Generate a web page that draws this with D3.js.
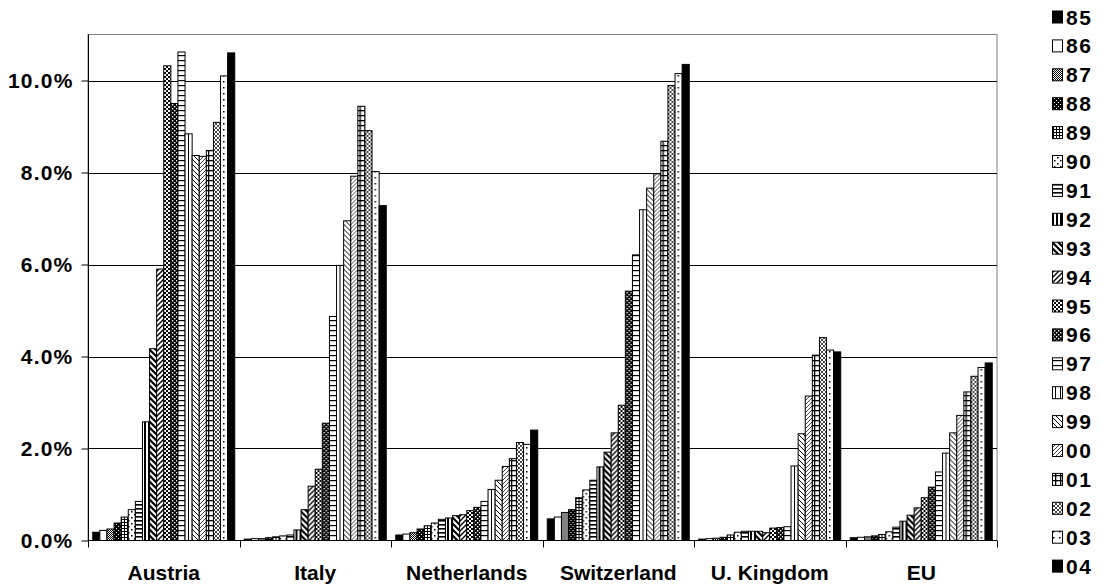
<!DOCTYPE html>
<html>
<head>
<meta charset="utf-8">
<script src="https://cdn.jsdelivr.net/npm/d3@7"></script>
<style>
  body { margin: 0; background: #fff; }
  text { font-family: "Liberation Sans", Arial, sans-serif; font-weight: bold; }
</style>
</head>
<body>
<script>
const years = ["85", "86", "87", "88", "89", "90", "91", "92", "93", "94",
               "95", "96", "97", "98", "99", "00", "01", "02", "03", "04"];
const categories = ["Austria", "Italy", "Netherlands", "Switzerland", "U. Kingdom", "EU"];
const yTicks = [0, 2, 4, 6, 8, 10];

// percent values, one per year 85..04
const austria = [0.18, 0.22, 0.25, 0.38, 0.51, 0.67, 0.85, 2.58, 4.17, 5.90, 10.32, 9.50, 10.62, 8.84, 8.37, 8.35, 8.48, 9.09, 10.10, 10.60];
const italy = [0.03, 0.04, 0.04, 0.06, 0.08, 0.10, 0.12, 0.23, 0.67, 1.18, 1.55, 2.55, 4.87, 5.98, 6.95, 7.92, 9.44, 8.91, 8.02, 7.28];
const netherlands = [0.12, 0.14, 0.17, 0.25, 0.32, 0.38, 0.46, 0.49, 0.54, 0.56, 0.65, 0.72, 0.85, 1.11, 1.31, 1.61, 1.78, 2.13, 2.09, 2.40];
const switzerland = [0.47, 0.51, 0.61, 0.67, 0.93, 1.10, 1.31, 1.60, 1.92, 2.34, 2.94, 5.42, 6.21, 7.19, 7.66, 7.97, 8.68, 9.89, 10.15, 10.35];
const uk = [0.03, 0.04, 0.05, 0.07, 0.12, 0.18, 0.20, 0.20, 0.20, 0.17, 0.27, 0.28, 0.30, 1.62, 2.32, 3.14, 4.03, 4.41, 4.14, 4.10];
const eu = [0.06, 0.07, 0.08, 0.10, 0.13, 0.19, 0.29, 0.42, 0.55, 0.71, 0.93, 1.16, 1.49, 1.90, 2.34, 2.72, 3.23, 3.57, 3.76, 3.86];

const seriesByCategory = [austria, italy, netherlands, switzerland, uk, eu];

const width = 1101, height = 585;
const plotLeft = 88, plotRight = 997, plotTop = 34.5, plotBottom = 540.5;

const svg = d3.select("body").append("svg")
    .attr("width", width)
    .attr("height", height);
const defs = svg.append("defs");

// ---- fill patterns, one per year ----
function makePattern(id, size, bg) {
    const p = defs.append("pattern")
        .attr("id", id)
        .attr("patternUnits", "userSpaceOnUse")
        .attr("width", size)
        .attr("height", size);
    p.append("rect").attr("width", size).attr("height", size).attr("fill", bg);
    return p;
}
function dots(p, pts, s, color) {
    pts.forEach(([x, y]) => p.append("rect").attr("x", x).attr("y", y)
        .attr("width", s).attr("height", s).attr("fill", color));
}
function hLines(p, size, w) {
    p.append("rect").attr("x", 0).attr("y", 0).attr("width", size).attr("height", w).attr("fill", "#000");
}
function vLines(p, size, w) {
    p.append("rect").attr("x", 0).attr("y", 0).attr("width", w).attr("height", size).attr("fill", "#000");
}
function diag(p, s, w, up, color) {
    const d = up
        ? `M0,${s} L${s},0 M${-s / 2},${s / 2} L${s / 2},${-s / 2} M${s / 2},${s * 1.5} L${s * 1.5},${s / 2}`
        : `M0,0 L${s},${s} M${-s / 2},${s / 2} L${s / 2},${s * 1.5} M${s / 2},${-s / 2} L${s * 1.5},${s / 2}`;
    p.append("path").attr("d", d).attr("stroke", color).attr("stroke-width", w).attr("fill", "none");
}

makePattern("p85", 4, "#000");
makePattern("p86", 4, "#fff");
dots(makePattern("p87", 2, "#fff"), [[0, 0], [1, 1]], 1, "#000");
dots(makePattern("p88", 4, "#000"), [[0, 0], [2, 2]], 1, "#fff");
(() => { const p = makePattern("p89", 3, "#fff"); hLines(p, 3, 1); vLines(p, 3, 1); })();
dots(makePattern("p90", 6, "#fff"), [[1, 1], [4, 4]], 1.5, "#000");
hLines(makePattern("p91", 4, "#fff"), 4, 1.6);
vLines(makePattern("p92", 4, "#fff"), 4, 2);
diag(makePattern("p93", 6, "#fff"), 6, 2.2, false, "#000");
diag(makePattern("p94", 5, "#fff"), 5, 1.4, true, "#000");
dots(makePattern("p95", 4, "#fff"), [[0, 0], [2, 2]], 2, "#000");
dots(makePattern("p96", 4, "#000"), [[0, 0], [2, 2]], 1.4, "#fff");
hLines(makePattern("p97", 5, "#fff"), 5, 1.2);
vLines(makePattern("p98", 5, "#fff"), 5, 1);
diag(makePattern("p99", 5, "#fff"), 5, 1, false, "#000");
diag(makePattern("p00", 4, "#fff"), 4, 1, true, "#444");
(() => { const p = makePattern("p01", 5, "#fff"); hLines(p, 5, 1.3); vLines(p, 5, 1.3); })();
(() => { const p = makePattern("p02", 4, "#fff"); diag(p, 4, 0.9, true, "#333"); diag(p, 4, 0.9, false, "#333"); })();
dots(makePattern("p03", 6, "#fff"), [[3, 3]], 1.5, "#000");
makePattern("p04", 4, "#000");

// ---- scales ----
const x0 = d3.scaleBand().domain(categories).range([plotLeft, plotRight]).padding(0);
const x1 = d3.scaleBand().domain(years).range([0, x0.bandwidth()]).paddingInner(0).paddingOuter(0.67);
const y = d3.scaleLinear().domain([0, 11]).range([plotBottom, plotTop]);

// gridlines + plot frame
svg.append("rect")
    .attr("x", plotLeft).attr("y", plotTop)
    .attr("width", plotRight - plotLeft).attr("height", plotBottom - plotTop)
    .attr("fill", "none").attr("stroke", "#808080");
svg.append("g").selectAll("line")
    .data(yTicks.filter(t => t > 0))
    .join("line")
    .attr("x1", plotLeft).attr("x2", plotRight)
    .attr("y1", d => Math.round(y(d)) + 0.5).attr("y2", d => Math.round(y(d)) + 0.5)
    .attr("stroke", "#000");

// bars
const groups = svg.append("g").selectAll("g")
    .data(categories)
    .join("g")
    .attr("transform", d => `translate(${x0(d)},0)`);

groups.selectAll("rect")
    .data((c, i) => years.map((yr, j) => ({ year: yr, value: seriesByCategory[i][j] })))
    .join("rect")
    .attr("x", d => x1(d.year))
    .attr("y", d => y(d.value))
    .attr("width", x1.bandwidth())
    .attr("height", d => y(0) - y(d.value))
    .attr("fill", d => `url(#p${d.year})`)
    .attr("stroke", "#000")
    .attr("stroke-width", 1);

// y axis
const yAxis = d3.axisLeft(y)
    .tickValues(yTicks)
    .tickSize(7)
    .tickPadding(8)
    .tickFormat(d => d.toFixed(1) + "%");
svg.append("g")
    .attr("transform", `translate(${plotLeft + 0.5},0)`)
    .call(yAxis)
    .call(g => g.selectAll("text")
        .style("font-size", "21px")
        .style("letter-spacing", "1.2px")
        .attr("fill", "#000"))
    .call(g => g.selectAll("line,path").attr("stroke", "#000"))
    .call(g => g.select(".domain").attr("d", `M0,${plotTop}V${plotBottom}`));

// x axis: category ticks at boundaries
const xAxisG = svg.append("g");
xAxisG.append("line")
    .attr("x1", plotLeft).attr("x2", plotRight)
    .attr("y1", plotBottom).attr("y2", plotBottom)
    .attr("stroke", "#000");
xAxisG.selectAll("line.tick")
    .data(categories.map(c => x0(c)).concat([plotRight]))
    .join("line")
    .attr("class", "tick")
    .attr("x1", d => Math.round(d) + 0.5).attr("x2", d => Math.round(d) + 0.5)
    .attr("y1", plotBottom).attr("y2", plotBottom + 7)
    .attr("stroke", "#000");
xAxisG.selectAll("text")
    .data(categories)
    .join("text")
    .attr("x", d => x0(d) + x0.bandwidth() / 2)
    .attr("y", 580)
    .attr("text-anchor", "middle")
    .style("font-size", "21px")
    .text(d => d);

// legend
const legend = svg.append("g");
years.forEach((yr, i) => {
    const ly = 17 + i * 28.9;
    legend.append("rect")
        .attr("x", 1052.5).attr("y", ly - 6)
        .attr("width", 10).attr("height", 12)
        .attr("fill", `url(#p${yr})`)
        .attr("stroke", "#000");
    legend.append("text")
        .attr("x", 1066)
        .attr("y", ly + 7.5)
        .style("font-size", "21px")
        .style("letter-spacing", "1.5px")
        .text(yr);
});
</script>
</body>
</html>
